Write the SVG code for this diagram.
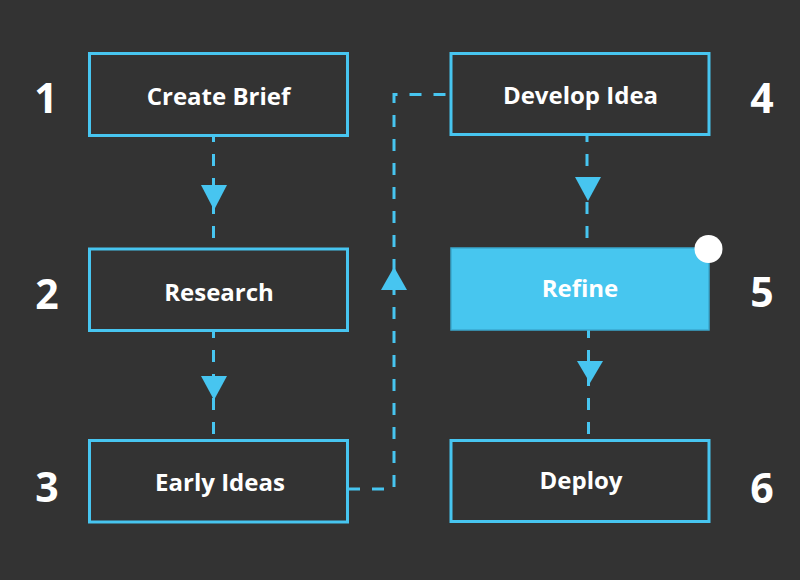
<svg xmlns="http://www.w3.org/2000/svg" width="800" height="580" viewBox="0 0 800 580">
<style>
.box{fill:#333333;stroke:#47c5f0;stroke-width:3}
.hl{fill:#47c6ef;stroke:#3aa9d0;stroke-width:1.5}
.lbl{font-family:"Open Sans","Liberation Sans",sans-serif;font-weight:700;font-size:24px;fill:#ffffff;text-anchor:middle}
.num{font-family:"Open Sans","Liberation Sans",sans-serif;font-weight:700;font-size:41px;fill:#ffffff;text-anchor:middle}
.ln{fill:none;stroke:#47c5f0;stroke-width:3;stroke-dasharray:12 12}
.ar{fill:#47c5f0}
</style>
<rect width="800" height="580" fill="#333333"/>
<g id="connectors">
<path class="ln" d="M213.5 130 V249"/>
<polygon class="ar" points="201,185 227,185 214,210"/>
<path class="ln" d="M213.5 326 V440"/>
<polygon class="ar" points="201,376 227,376 214,400"/>
<path class="ln" d="M348 489 H394 V94.5 H451"/>
<polygon class="ar" points="381,290 407,290 394,267"/>
<path class="ln" d="M587 130 V248"/>
<polygon class="ar" points="575,177 601,177 588,201"/>
<path class="ln" d="M588.5 326 V440"/>
<polygon class="ar" points="577,361 603,361 590,383"/>
</g>
<g id="n1"><rect class="box" x="89.5" y="53.5" width="258" height="82"/><text class="lbl" x="218.5" y="105">Create Brief</text></g>
<g id="n2"><rect class="box" x="89.5" y="249" width="258" height="81.5"/><text class="lbl" x="219" y="301">Research</text></g>
<g id="n3"><rect class="box" x="89.5" y="440.5" width="258" height="81.5"/><text class="lbl" x="220" y="491">Early Ideas</text></g>
<g id="n4"><rect class="box" x="451" y="53.5" width="258" height="81"/><text class="lbl" x="580.5" y="104">Develop Idea</text></g>
<g id="n5"><rect class="hl" x="451" y="248" width="258" height="82"/><circle cx="708.5" cy="249" r="14" fill="#ffffff"/><text class="lbl" x="580" y="297">Refine</text></g>
<g id="n6"><rect class="box" x="451" y="440.5" width="258" height="81"/><text class="lbl" x="581" y="489">Deploy</text></g>
<g id="numbers">
<text class="num" x="46" y="113">1</text>
<text class="num" x="47" y="309">2</text>
<text class="num" x="47" y="502">3</text>
<text class="num" x="762" y="113">4</text>
<text class="num" x="762" y="307">5</text>
<text class="num" x="762" y="503">6</text>
</g>
</svg>
